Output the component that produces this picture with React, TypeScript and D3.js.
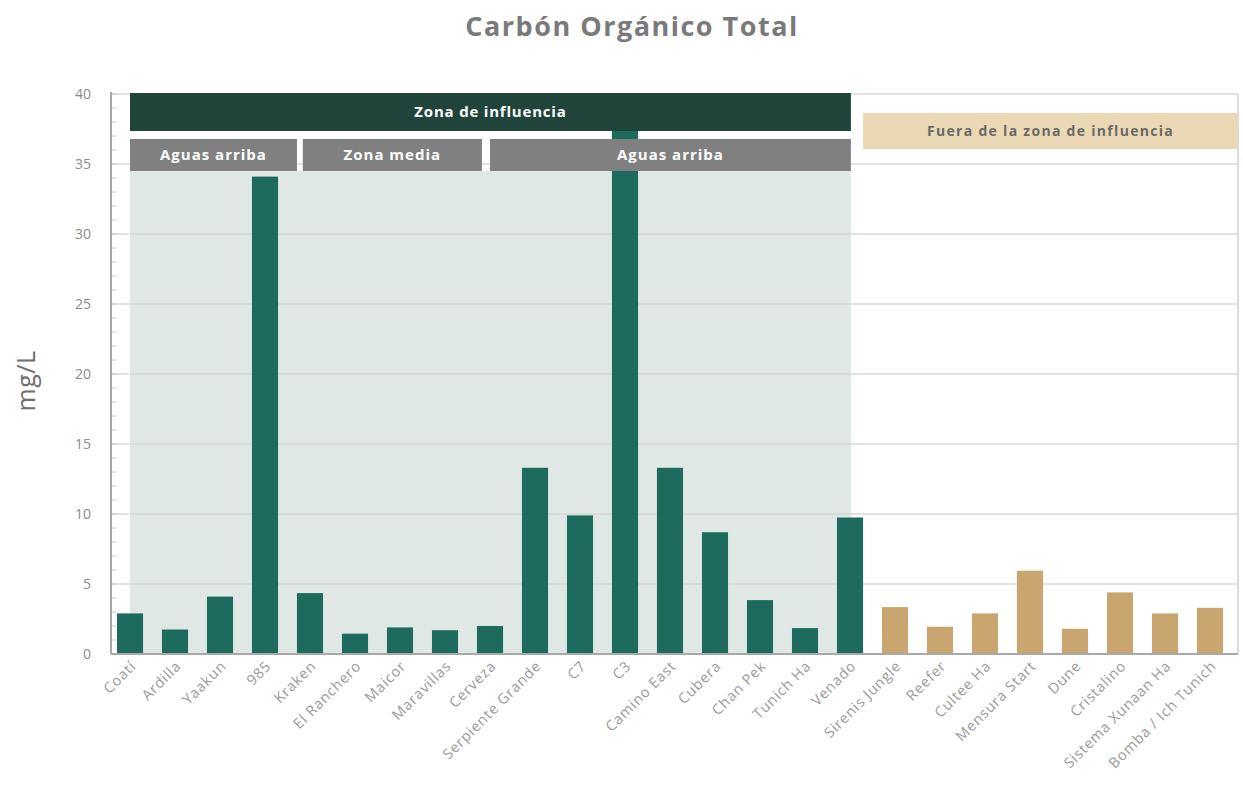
import React from "react";
import * as d3 from "d3";

// Sampling sites, in plotting order
const sites: string[] = [
  "Coatí", "Ardilla", "Yaakun", "985", "Kraken", "El Ranchero", "Maicor",
  "Maravillas", "Cerveza", "Serpiente Grande", "C7", "C3", "Camino East",
  "Cubera", "Chan Pek", "Tunich Ha", "Venado", "Sirenis Jungle", "Reefer",
  "Cultee Ha", "Mensura Start", "Dune", "Cristalino", "Sistema Xunaan Ha",
  "Bomba / Ich Tunich",
];

// Total organic carbon, mg/L
const toc: number[] = [
  2.9, 1.75, 4.1, 34.1, 4.35, 1.45, 1.9, 1.7, 2.0, 13.3, 9.9, 37.4, 13.3,
  8.7, 3.85, 1.85, 9.75, 3.35, 1.95, 2.9, 5.95, 1.8, 4.4, 2.9, 3.3,
];

// true = site inside the zone of influence
const insideZone: boolean[] = sites.map((_, i) => i <= 16);

const yTicks: number[] = [0, 5, 10, 15, 20, 25, 30, 35, 40];

// Sub-zone labels with their span expressed in category positions
const subZoneLabels: string[] = ["Aguas arriba", "Zona media", "Aguas arriba"];
const subZoneFrom: number[] = [0, 3.84, 8.0];
const subZoneTo: number[] = [3.71, 7.82, 16.02];

const W = 1243;
const H = 789;
const FONT = "'Open Sans', 'DejaVu Sans', sans-serif";

export default function App() {
  const left = 107.5;
  const right = 1232.5;
  const plotLeft = 111;
  const plotRight = 1238;
  const top = 94;
  const bottom = 654;

  const x = d3
    .scaleBand<string>()
    .domain(sites)
    .range([left, right])
    .paddingInner(0.42)
    .paddingOuter(0.21);

  const y = d3.scaleLinear().domain([0, 40]).range([bottom, top]);

  const step = x.step();
  const center = (i: number) => (x(sites[0]) as number) + x.bandwidth() / 2 + i * step;
  const minorTicks = d3.range(0, 41, 1);

  const zoneX0 = center(0);
  const zoneX1 = center(16.02);
  const shadeTop = 171;

  const green = "#1d6b5d";
  const tan = "#c9a66f";

  return (
    <svg
      width={W}
      height={H}
      viewBox={`0 0 ${W} ${H}`}
      style={{ position: "absolute", left: 0, top: 0, fontFamily: FONT }}
    >
      <rect x={0} y={0} width={W} height={H} fill="#ffffff" />

      {/* Title */}
      <text
        x={632}
        y={36}
        textAnchor="middle"
        fontSize={27}
        fontWeight={700}
        letterSpacing={1.5}
        fill="#7a7a7a"
      >
        Carbón Orgánico Total
      </text>

      {/* Y axis title */}
      <text
        transform={`translate(35, 381) rotate(-90)`}
        textAnchor="middle"
        fontSize={25}
        letterSpacing={0.5}
        fill="#6e6e6e"
      >
        mg/L
      </text>

      {/* Zone of influence shading */}
      <rect
        x={zoneX0}
        y={shadeTop}
        width={zoneX1 - zoneX0}
        height={bottom - shadeTop}
        fill="#e0e8e5"
      />

      {/* Grid */}
      {yTicks.map((t) => (
        <line
          key={"g" + t}
          x1={plotLeft}
          x2={plotRight}
          y1={y(t)}
          y2={y(t)}
          stroke="#d9d9d9"
          strokeWidth={1.5}
        />
      ))}
      <line x1={plotRight} x2={plotRight} y1={top} y2={bottom} stroke="#d0d0d0" strokeWidth={1.5} />

      {/* Minor ticks */}
      {minorTicks.map((t) => (
        <line
          key={"m" + t}
          x1={plotLeft}
          x2={plotLeft + 5}
          y1={y(t)}
          y2={y(t)}
          stroke="#c8c8c8"
          strokeWidth={1}
        />
      ))}

      {/* Bars */}
      {sites.map((s, i) => (
        <rect
          key={s}
          x={x(s)}
          y={y(toc[i])}
          width={x.bandwidth()}
          height={bottom - y(toc[i])}
          fill={insideZone[i] ? green : tan}
        />
      ))}

      {/* Zone of influence header */}
      <rect x={zoneX0} y={93} width={zoneX1 - zoneX0} height={38} fill="#20443a" />
      <text
        x={(zoneX0 + zoneX1) / 2}
        y={117}
        textAnchor="middle"
        fontSize={15}
        fontWeight={700}
        letterSpacing={0.8}
        fill="#ffffff"
      >
        Zona de influencia
      </text>

      {/* Sub-zone headers */}
      {subZoneLabels.map((lab, k) => {
        const a = center(subZoneFrom[k]);
        const b = center(subZoneTo[k]);
        return (
          <g key={"z" + k}>
            <rect x={a} y={139} width={b - a} height={32} fill="#808080" />
            <text
              x={(a + b) / 2}
              y={160}
              textAnchor="middle"
              fontSize={15}
              fontWeight={700}
              letterSpacing={1}
              fill="#ffffff"
            >
              {lab}
            </text>
          </g>
        );
      })}

      {/* Outside-zone header */}
      <rect x={center(16.29)} y={113} width={plotRight - center(16.29)} height={36} fill="#ebd9b6" />
      <text
        x={(center(16.29) + plotRight) / 2}
        y={136}
        textAnchor="middle"
        fontSize={14}
        fontWeight={700}
        letterSpacing={1.3}
        fill="#6a6a6a"
      >
        Fuera de la zona de influencia
      </text>

      {/* Axes lines */}
      <line x1={plotLeft} x2={plotLeft} y1={top - 2} y2={bottom} stroke="#a8a8a8" strokeWidth={2} />
      <line x1={plotLeft} x2={plotRight} y1={bottom} y2={bottom} stroke="#a8a8a8" strokeWidth={2} />

      {/* Y tick labels */}
      {yTicks.map((t) => (
        <text
          key={"yl" + t}
          x={91}
          y={y(t) + 5}
          textAnchor="end"
          fontSize={14}
          fill="#8a8a8a"
        >
          {t}
        </text>
      ))}

      {/* X tick labels */}
      {sites.map((s) => {
        const cx = (x(s) as number) + x.bandwidth() / 2 + 7;
        return (
          <text
            key={"xl" + s}
            transform={`translate(${cx}, 667) rotate(-45)`}
            textAnchor="end"
            fontSize={14.5}
            letterSpacing={0.8}
            fill="#9a9a9a"
          >
            {s}
          </text>
        );
      })}
    </svg>
  );
}
